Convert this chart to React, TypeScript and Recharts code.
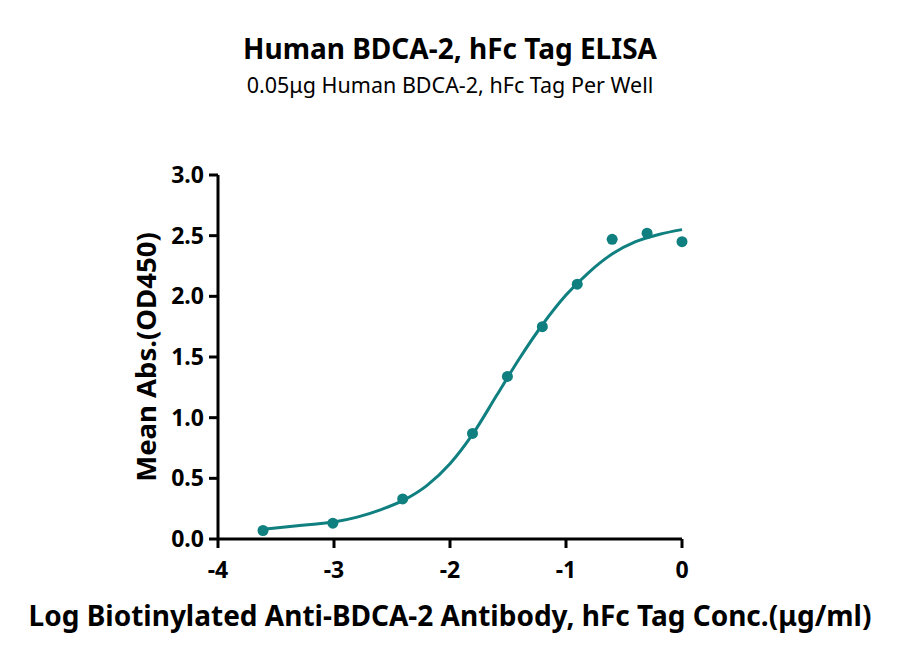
import { ComposedChart, Line, Scatter, XAxis, YAxis } from 'recharts';

const logConc = [-3.612, -3.01, -2.408, -1.806, -1.505, -1.204, -0.903, -0.602, -0.301, 0];
const meanAbs = [0.07, 0.13, 0.33, 0.87, 1.34, 1.75, 2.1, 2.47, 2.52, 2.45];

// fitted curve
const fitX = [-3.61, -3.4, -3.2, -3.0, -2.8, -2.6, -2.4, -2.2, -2.0, -1.8, -1.6, -1.4, -1.2, -1.0, -0.8, -0.6, -0.4, -0.2, 0];
const fitY = [0.08, 0.1, 0.12, 0.14, 0.18, 0.24, 0.32, 0.44, 0.62, 0.87, 1.18, 1.49, 1.77, 2.01, 2.2, 2.35, 2.45, 2.51, 2.55];

const xTicks = [-4, -3, -2, -1, 0];
const yTicks = [0, 0.5, 1, 1.5, 2, 2.5, 3];

const TEAL = '#0f7f80';
const FONT = '"Noto Sans", sans-serif';

const points = logConc.map((x, i) => ({ x, y: meanAbs[i] }));
const curve = fitX.map((x, i) => ({ x, y: fitY[i] }));

export default function App() {
  const tickStyle = { fontFamily: FONT, fontWeight: 700, fontSize: 23, fill: '#000' };
  return (
    <div style={{ position: 'absolute', left: 0, top: 0, width: 900, height: 660, background: '#fff', fontFamily: FONT }}>
      <div style={{ position: 'absolute', top: 28, width: 900, textAlign: 'center', fontSize: 28, fontWeight: 700, lineHeight: '40px' }}>
        Human BDCA-2, hFc Tag ELISA
      </div>
      <div style={{ position: 'absolute', top: 70, width: 900, textAlign: 'center', fontSize: 21.5, lineHeight: '30px' }}>
        0.05μg Human BDCA-2, hFc Tag Per Well
      </div>
      <ComposedChart width={900} height={660} margin={{ top: 175, right: 218, bottom: 0, left: 0 }}>
        <XAxis
          type="number"
          dataKey="x"
          domain={[-4, 0]}
          ticks={xTicks}
          allowDuplicatedCategory={false}
          height={121}
          axisLine={{ stroke: '#000', strokeWidth: 3 }}
          tickLine={{ stroke: '#000', strokeWidth: 3 }}
          tickSize={9}
          tickMargin={14}
          tick={tickStyle}
        />
        <YAxis
          type="number"
          dataKey="y"
          domain={[0, 3]}
          ticks={yTicks}
          width={218}
          axisLine={{ stroke: '#000', strokeWidth: 3 }}
          tickLine={{ stroke: '#000', strokeWidth: 3 }}
          tickSize={9}
          tickMargin={5}
          tick={tickStyle}
          tickFormatter={(v: number) => v.toFixed(1)}
        />
        <Line
          data={curve}
          dataKey="y"
          type="monotone"
          stroke={TEAL}
          strokeWidth={3}
          dot={false}
          isAnimationActive={false}
        />
        <Scatter data={points} dataKey="y" fill={TEAL} shape={(p: any) => <circle cx={p.cx} cy={p.cy} r={5.5} fill={TEAL} />} isAnimationActive={false} />
      </ComposedChart>
      <div
        style={{
          position: 'absolute',
          left: 145,
          top: 357,
          transform: 'translate(-50%, -50%) rotate(-90deg)',
          whiteSpace: 'nowrap',
          fontSize: 27.5,
          fontWeight: 700,
        }}
      >
        Mean Abs.(OD450)
      </div>
      <div style={{ position: 'absolute', top: 595, width: 900, textAlign: 'center', fontSize: 28, fontWeight: 700, whiteSpace: 'nowrap', lineHeight: '40px' }}>
        Log Biotinylated Anti-BDCA-2 Antibody, hFc Tag Conc.(μg/ml)
      </div>
    </div>
  );
}
